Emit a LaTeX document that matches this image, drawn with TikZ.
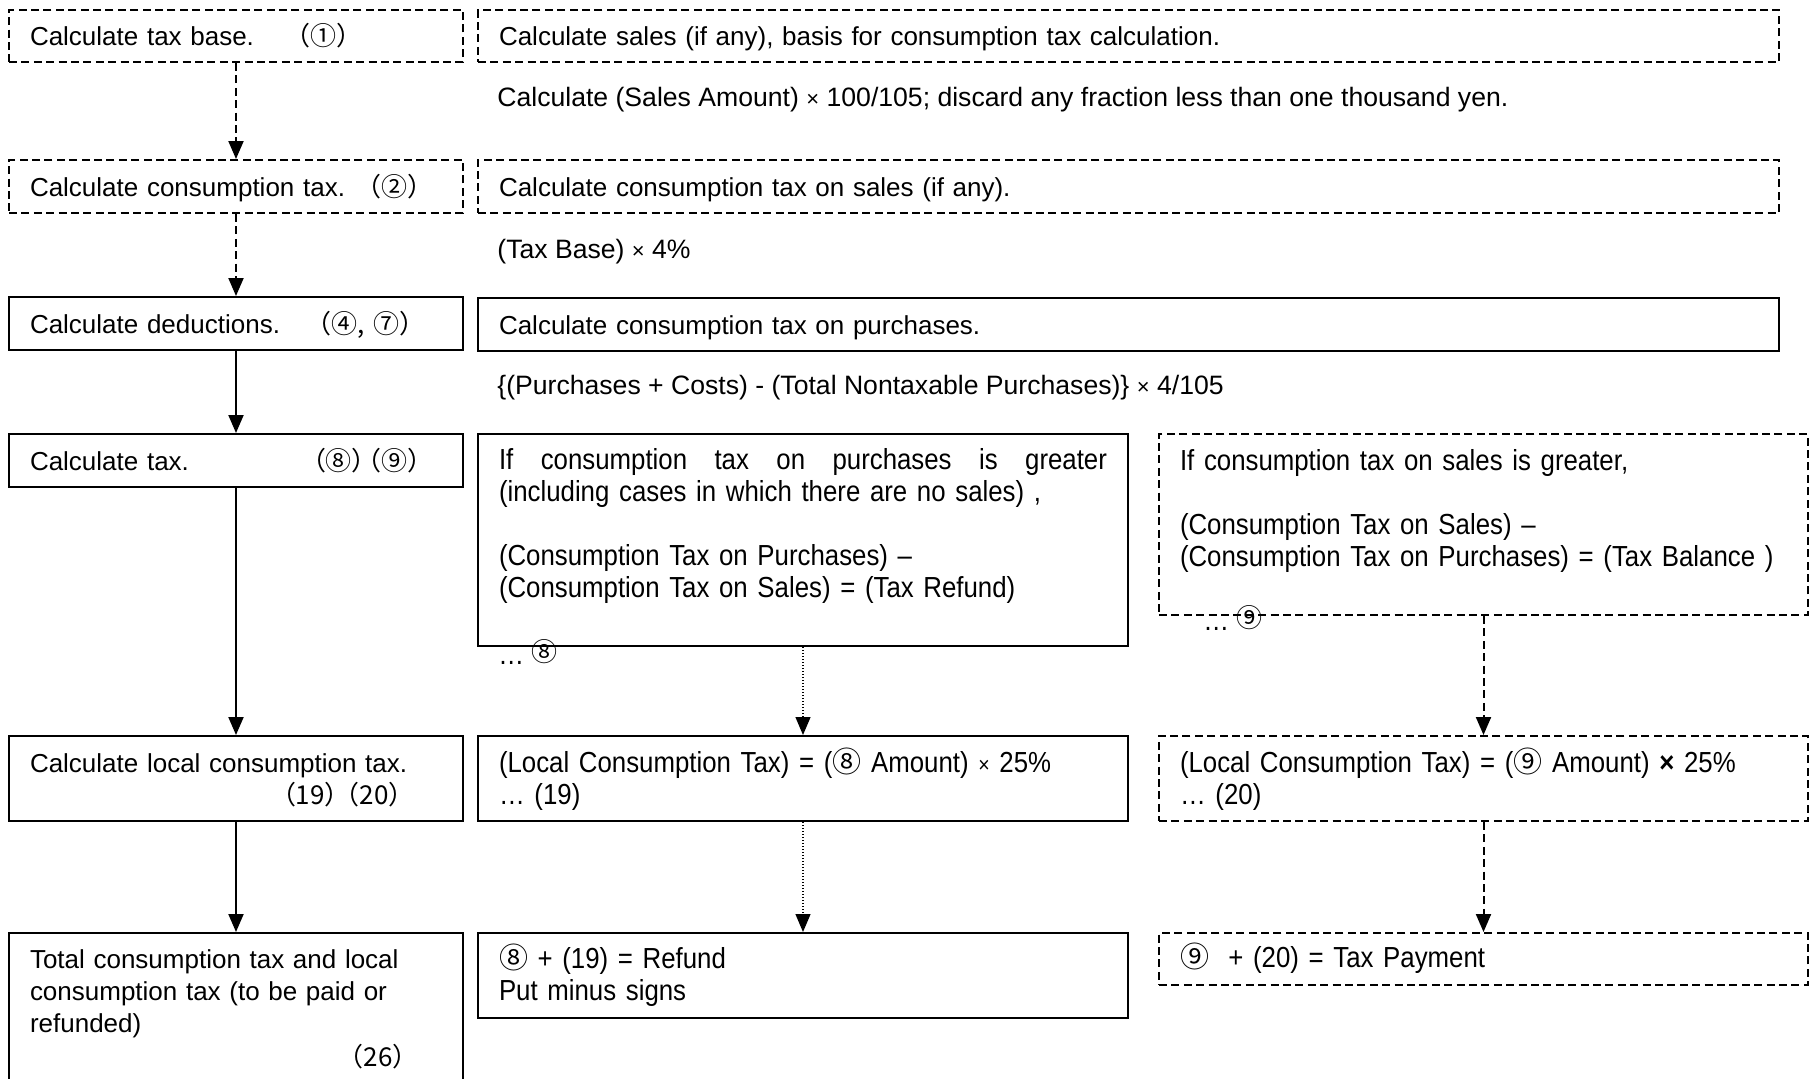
\documentclass[tikz,border=0pt]{standalone}
\usepackage{fontspec}
\setmainfont{Liberation Sans}
\newfontfamily\narrowfont{Liberation Sans}[FakeStretch=0.89]
\newfontfamily\cjk{Noto Sans CJK JP}
\usetikzlibrary{arrows.meta}
\newcommand{\smx}{{\fontsize{11}{11}\selectfont ×}}
\newcommand{\upstrut}{\rule[-4.8pt]{0pt}{19.5pt}}
\newcommand{\topstrut}{\rule{0pt}{14.7pt}}
\tikzset{
  solidbox/.style={draw, line width=1pt, rectangle, anchor=north west,
    inner xsep=10.5pt, inner ysep=0pt, align=left},
  dashbox/.style={solidbox, dash pattern=on 4pt off 2.2pt},
  leftfont/.style={font=\fontsize{13}{16}\selectfont},
  narrowtext/.style={font=\narrowfont\fontsize{14.5}{16}\selectfont},
  plaintext/.style={anchor=west, inner sep=0pt, font=\fontsize{13.3}{16}\selectfont},
  lefttype/.style={minimum width=227pt, text width=206pt},
  widetype/.style={minimum width=650.5pt, text width=629.5pt},
  midtype/.style={minimum width=325pt, text width=304pt},
  righttype/.style={minimum width=324.5pt, text width=303.5pt},
  flow/.style={line width=1pt, -{Triangle[width=7.5pt,length=9pt]}},
  flowdash/.style={flow, dash pattern=on 4pt off 2.2pt},
  flowdot/.style={line width=0.6pt, dash pattern=on 0.6pt off 0.9pt, -{Triangle[width=7.5pt,length=9pt]}},
}
\begin{document}
\begin{tikzpicture}[x=0.5pt,y=-0.5pt]
\useasboundingbox (0,0) rectangle (1816,1078);
\clip (0,0) rectangle (1816,1078);

% left column
\node[dashbox, leftfont, lefttype, minimum height=26pt] (L1) at (8,9)
  {\upstrut\makebox[127pt][l]{Calculate tax base.}{\cjk （①）}};
\node[dashbox, leftfont, lefttype, minimum height=26.5pt] (L2) at (8,159)
  {\upstrut\makebox[163pt][l]{Calculate consumption tax.}{\cjk （②）}};
\node[solidbox, leftfont, lefttype, minimum height=26.5pt] (L3) at (8,296)
  {\upstrut\makebox[138pt][l]{Calculate deductions.}{\cjk （④, ⑦）}};
\node[solidbox, leftfont, lefttype, minimum height=26.5pt] (L4) at (8,433)
  {\upstrut\makebox[135pt][l]{Calculate tax.}{\cjk （⑧）\kern-0.85em（⑨）}};
\node[solidbox, leftfont, lefttype, minimum height=42.5pt] (L5) at (8,735)
  {\topstrut Calculate local consumption tax.\\\hspace*{120pt}{\cjk （19）\kern-0.65em（20）}\strut};
\node[solidbox, leftfont, lefttype, inner ysep=6.5pt] (L6) at (8,932)
  {\strut Total consumption tax and local\\consumption tax (to be paid or\\refunded)\\[1pt]\hspace*{154pt}{\cjk （26）}\strut};

% wide boxes and free texts
\node[dashbox, leftfont, widetype, minimum height=26pt] (R1) at (477,9)
  {\upstrut Calculate sales (if any), basis for consumption tax calculation.};
\node[plaintext] (T1) at (497,100)
  {Calculate (Sales Amount) \smx{} 100/105; discard any fraction less than one thousand yen.};
\node[dashbox, leftfont, widetype, minimum height=26.5pt] (R2) at (477,159)
  {\upstrut Calculate consumption tax on sales (if any).};
\node[plaintext] (T2) at (497,252) {(Tax Base) \smx{} 4\%};
\node[solidbox, leftfont, widetype, minimum height=26.5pt] (R3) at (477,297)
  {\upstrut Calculate consumption tax on purchases.};
\node[plaintext] (T3) at (497,388)
  {\{(Purchases + Costs) - (Total Nontaxable Purchases)\} \smx{} 4/105};

% middle column
\node[solidbox, narrowtext, midtype, minimum height=106pt] (M4) at (477,433)
  {\topstrut\makebox[304pt][l]{If\hfill consumption\hfill tax\hfill on\hfill purchases\hfill is\hfill greater}\\
   (including cases in which there are no sales) ,\\
   \mbox{}\\
   (Consumption Tax on Purchases) –\\
   (Consumption Tax on Sales) = (Tax Refund)\\
   \mbox{}\strut};
\node[anchor=base west, inner sep=0pt, narrowtext] (D8) at (498,664)
  {…\ \raisebox{1.5pt}{\cjk\fontsize{13}{13}\selectfont ⑧}};
\node[solidbox, narrowtext, midtype, minimum height=42.5pt] (M5) at (477,735)
  {\topstrut(Local Consumption Tax) = ({\cjk ⑧} Amount) \smx{} 25\%\\… (19)\strut};
\node[solidbox, narrowtext, midtype, minimum height=42.5pt] (M6) at (477,932)
  {\rule{0pt}{13.5pt}{\cjk ⑧} + (19) = Refund\\Put minus signs\strut};

% right column
\node[dashbox, narrowtext, righttype, minimum height=90.5pt] (R4) at (1158,433)
  {\topstrut If consumption tax on sales is greater,\\
   \mbox{}\\
   (Consumption Tax on Sales) –\\
   (Consumption Tax on Purchases) = (Tax Balance )\\
   \mbox{}\strut};
\node[anchor=base west, inner sep=0pt, narrowtext] (D9) at (1203,630)
  {…\ \raisebox{1.5pt}{\cjk\fontsize{13}{13}\selectfont ⑨}};
\node[dashbox, narrowtext, righttype, minimum height=42.5pt] (R5) at (1158,735)
  {\topstrut(Local Consumption Tax) = ({\cjk ⑨} Amount) {\bfseries ×} 25\%\\… (20)\strut};
\node[dashbox, narrowtext, righttype, minimum height=26pt] (R6) at (1158,932)
  {\rule[-4.8pt]{0pt}{18.3pt}{\cjk ⑨}\ \ + (20) = Tax Payment};

% connectors
\draw[flowdash] (L1.south) -- (L2.north);
\draw[flowdash] (L2.south) -- (L3.north);
\draw[flow] (L3.south) -- (L4.north);
\draw[flow] (L4.south) -- (L5.north);
\draw[flow] (L5.south) -- (L6.north);
\draw[flowdot] (M4.south) -- (M5.north);
\draw[flowdot] (M5.south) -- (M6.north);
\draw[flowdash] (R4.south) -- (R5.north);
\draw[flowdash] (R5.south) -- (R6.north);
\end{tikzpicture}
\end{document}
